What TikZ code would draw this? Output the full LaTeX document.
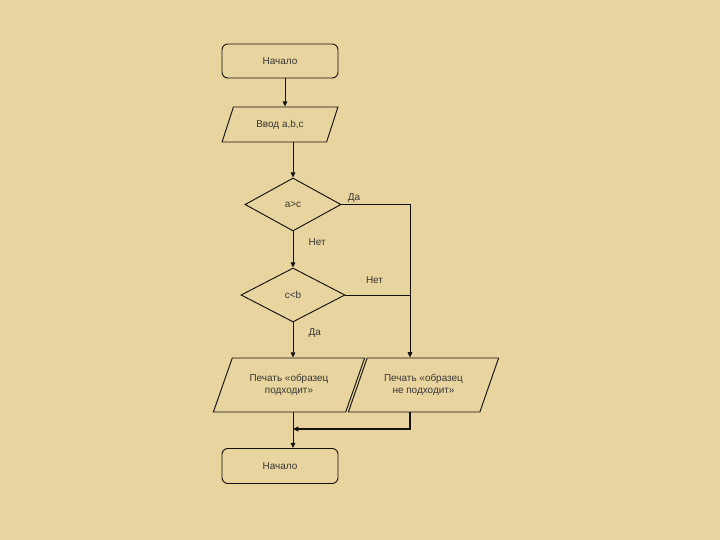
\documentclass[tikz,border=0pt]{standalone}
\usepackage{fontspec}
\setmainfont{Liberation Sans}
\usepackage{tikz}
\usetikzlibrary{arrows.meta,shapes.geometric,positioning}
\definecolor{paperbg}{HTML}{E8D49E}
\definecolor{flowink}{HTML}{141210}

\begin{document}
\begin{tikzpicture}[
  x=0.03cm,y=-0.03cm,
  >={Triangle[length=4.5pt,width=4pt]},
  every node/.style={font=\fontsize{8.5}{10}\selectfont,text=flowink!85},
  term/.style={draw=flowink,line width=.8pt,rounded corners=5pt,minimum width=3.48cm,
    minimum height=1.02cm,align=center},
  io/.style={draw=flowink,line width=.8pt,trapezium,trapezium stretches=true,
    trapezium left angle=58,trapezium right angle=122,inner sep=0pt,
    align=center},
  test/.style={draw=flowink,line width=.8pt,diamond,inner sep=0pt,align=center},
  tag/.style={inner sep=1pt},
  link/.style={flowink,line width=.8pt}
]
  \fill[paperbg] (0,0) rectangle (720,540);

  \node[term] (start) at (280,61) {Начало};
  \node[io,minimum width=3.48cm,minimum height=1.05cm] (input) at (280,124.5) {Ввод a,b,c};
  \node[test,minimum width=2.88cm,minimum height=1.59cm] (cmpac) at (293,204.5) {a>c};
  \node[test,minimum width=3.12cm,minimum height=1.62cm] (cmpcb) at (293,295) {c<b};
  \node[io,minimum width=4.56cm,minimum height=1.62cm] (fits) at (289,385)
    {Печать «образец\\подходит»};
  \node[io,minimum width=4.53cm,minimum height=1.62cm] (nofit) at (423.5,385)
    {Печать «образец\\не подходит»};
  \node[term,minimum height=1.05cm] (stop) at (280,466) {Начало};

  \coordinate (rail) at (410,0);
  \coordinate (merge) at (293,429);

  \draw[->,link] ([xshift=.15cm]start.south) -- ([xshift=.15cm]start.south |- input.north);
  \draw[->,link] (input.south -| cmpac.north) -- (cmpac.north);
  \draw[->,link] (cmpac.east) -- node[tag,pos=0,above right=0pt and 4pt] {Да} (cmpac.east -| rail)
    -- (rail |- nofit.north);
  \draw[->,link] (cmpac.south) -- node[tag,pos=.3,right=12pt] {Нет} (cmpcb.north);
  \draw[link] (cmpcb.east) -- node[tag,pos=.45,above=8pt] {Нет} (cmpcb.east -| rail);
  \draw[->,link] (cmpcb.south) -- node[tag,pos=.3,right=12pt] {Да} (cmpcb.south |- fits.north);
  \draw[->,link] (fits.south -| merge) -- (merge |- stop.north);
  \draw[->,flowink,line width=1.6pt] (rail |- nofit.south) -- (rail |- merge) -- (merge);
\end{tikzpicture}
\end{document}
